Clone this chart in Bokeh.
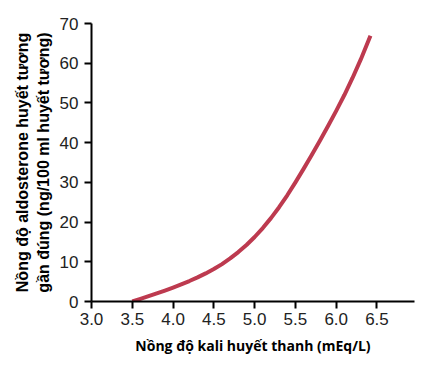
from bokeh.plotting import figure
from bokeh.models import Range1d, FixedTicker, NumeralTickFormatter
from bokeh.embed import file_html
from bokeh.resources import INLINE

potassium = [3.5, 3.6, 3.7, 3.8, 3.9, 4.0, 4.1, 4.2, 4.3, 4.4, 4.5, 4.6, 4.7, 4.8, 4.9,
             5.0, 5.1, 5.2, 5.3, 5.4, 5.5, 5.6, 5.7, 5.8, 5.9, 6.0, 6.1, 6.2, 6.3, 6.4, 6.42]
aldosterone = [0.0, 0.65, 1.33, 2.03, 2.75, 3.5, 4.3, 5.15, 6.07, 7.07, 8.17, 9.42, 10.84, 12.44, 14.24,
               16.24, 18.49, 20.99, 23.74, 26.74, 29.99, 33.39, 36.89, 40.49, 44.19, 47.99, 51.99, 56.29,
               60.89, 65.89, 66.9]
x_ticks = [3.0, 3.5, 4.0, 4.5, 5.0, 5.5, 6.0, 6.5]
y_ticks = [0, 10, 20, 30, 40, 50, 60, 70]
x_title = "Nồng độ kali huyết thanh (mEq/L)"
y_title = "Nồng độ aldosterone huyết tương\ngần đúng (ng/100 ml huyết tương)"

p = figure(width=429, height=367, output_backend="svg", toolbar_location=None,
           x_range=Range1d(3.0, 6.96), y_range=Range1d(0, 70),
           min_border_left=91, min_border_right=15, min_border_top=23, min_border_bottom=66)
p.outline_line_color = None
p.grid.visible = False
p.background_fill_color = "white"

p.line(potassium, aldosterone, line_color="#bd3a4f", line_width=4, line_join="round")

for ax in (p.xaxis, p.yaxis):
    ax.axis_line_width = 2
    ax.axis_line_color = "black"
    ax.major_tick_line_width = 2
    ax.major_tick_line_color = "black"
    ax.major_tick_out = 7
    ax.major_tick_in = 0
    ax.minor_tick_line_color = None
    ax.major_label_text_font = "Liberation Sans"
    ax.major_label_text_font_size = "17px"
    ax.major_label_text_color = "#222222"
    ax.axis_label_text_font_style = "bold"
    ax.axis_label_text_color = "black"

p.xaxis.ticker = FixedTicker(ticks=x_ticks)
p.yaxis.ticker = FixedTicker(ticks=y_ticks)
p.xaxis.formatter = NumeralTickFormatter(format="0.0")
p.xaxis.axis_label = x_title
p.xaxis.axis_label_text_font = "Open Sans"
p.xaxis.axis_label_text_font_size = "14px"
p.yaxis.axis_label = y_title
p.yaxis.axis_label_text_font = "Liberation Sans"
p.yaxis.axis_label_text_font_size = "16px"
p.xaxis.major_label_standoff = 4
p.xaxis.axis_label_standoff = 8
p.yaxis.major_label_standoff = 6
p.yaxis.axis_label_standoff = 5

open("out.html", "w").write(file_html(p, INLINE))
